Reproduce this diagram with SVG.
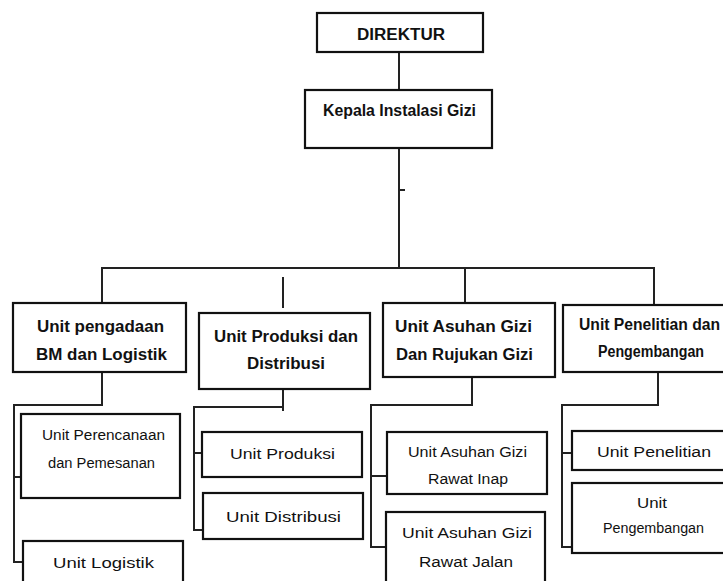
<svg xmlns="http://www.w3.org/2000/svg" width="723" height="581" viewBox="0 0 723 581">
<style>
.box{fill:#fff;stroke:#111;stroke-width:2.2}
.ln{fill:none;stroke:#222;stroke-width:2}
.h{font-family:"Comic Sans MS","Liberation Sans",sans-serif;font-weight:bold;font-size:16px;fill:#111;text-anchor:middle}
.c{font-family:"Comic Sans MS","Liberation Sans",sans-serif;font-size:15.5px;fill:#111;text-anchor:middle}
</style>
<rect width="723" height="581" fill="#fff"/>
<g id="connectors">
<path class="ln" d="M399,52 V90"/>
<path class="ln" d="M399,148 V268"/>
<path class="ln" d="M399,190 H405" stroke-width="2.5"/>
<path class="ln" d="M102,303 V268 H654 V305"/>
<path class="ln" d="M283,277 V308"/>
<path class="ln" d="M465,268 V303"/>
<path class="ln" d="M102,372 V405 H14 V562 H23 M14,477 H21"/>
<path class="ln" d="M283,389 V411 M283,407 H194 V530 H203 M194,453 H202"/>
<path class="ln" d="M472,377 V405 H371 V547 H388 M371,476 H389"/>
<path class="ln" d="M658,372 V405 H562 V547 H572 M562,453 H572"/>
</g>
<g id="direktur">
<rect class="box" x="317" y="13" width="166" height="39"/>
<text class="h" x="401" y="40" textLength="88" lengthAdjust="spacingAndGlyphs">DIREKTUR</text>
</g>
<g id="kepala">
<rect class="box" x="305" y="90" width="187" height="58"/>
<text class="h" x="399.5" y="116" textLength="153" lengthAdjust="spacingAndGlyphs">Kepala Instalasi Gizi</text>
</g>
<g id="unit-pengadaan">
<rect class="box" x="13" y="303" width="173" height="69"/>
<text class="h" x="100.5" y="332" textLength="127" lengthAdjust="spacingAndGlyphs">Unit pengadaan</text>
<text class="h" x="101.5" y="360" textLength="131" lengthAdjust="spacingAndGlyphs">BM dan Logistik</text>
</g>
<g id="unit-produksi-distribusi">
<rect class="box" x="199" y="313" width="171" height="76"/>
<text class="h" x="286" y="342" textLength="144" lengthAdjust="spacingAndGlyphs">Unit Produksi dan</text>
<text class="h" x="286" y="369" textLength="78" lengthAdjust="spacingAndGlyphs">Distribusi</text>
</g>
<g id="unit-asuhan">
<rect class="box" x="383" y="303" width="172" height="74"/>
<text class="h" x="463.5" y="332" textLength="137" lengthAdjust="spacingAndGlyphs">Unit Asuhan Gizi</text>
<text class="h" x="464.5" y="360" textLength="137" lengthAdjust="spacingAndGlyphs">Dan Rujukan Gizi</text>
</g>
<g id="unit-penelitian-pengembangan">
<rect class="box" x="563" y="305" width="164" height="67"/>
<text class="h" x="649.5" y="330" textLength="141" lengthAdjust="spacingAndGlyphs">Unit Penelitian dan</text>
<text class="h" x="651" y="357" textLength="106" lengthAdjust="spacingAndGlyphs">Pengembangan</text>
</g>
<g id="unit-perencanaan">
<rect class="box" x="21" y="414" width="159" height="84"/>
<text class="c" x="103.5" y="440" textLength="123" lengthAdjust="spacingAndGlyphs">Unit Perencanaan</text>
<text class="c" x="101.5" y="468" textLength="107" lengthAdjust="spacingAndGlyphs">dan Pemesanan</text>
</g>
<g id="unit-logistik">
<rect class="box" x="23" y="541" width="160" height="50"/>
<text class="c" x="103.5" y="568" textLength="101" lengthAdjust="spacingAndGlyphs">Unit Logistik</text>
</g>
<g id="unit-produksi">
<rect class="box" x="202" y="432" width="160" height="45"/>
<text class="c" x="282.5" y="459" textLength="105" lengthAdjust="spacingAndGlyphs">Unit Produksi</text>
</g>
<g id="unit-distribusi">
<rect class="box" x="203" y="493" width="160" height="46"/>
<text class="c" x="283.5" y="522" textLength="115" lengthAdjust="spacingAndGlyphs">Unit Distribusi</text>
</g>
<g id="unit-rawat-inap">
<rect class="box" x="387" y="432" width="160" height="62"/>
<text class="c" x="467.5" y="457" textLength="119" lengthAdjust="spacingAndGlyphs">Unit Asuhan Gizi</text>
<text class="c" x="468" y="484" textLength="80" lengthAdjust="spacingAndGlyphs">Rawat Inap</text>
</g>
<g id="unit-rawat-jalan">
<rect class="box" x="386" y="512" width="159" height="79"/>
<text class="c" x="467" y="538" textLength="130" lengthAdjust="spacingAndGlyphs">Unit Asuhan Gizi</text>
<text class="c" x="466" y="567" textLength="94" lengthAdjust="spacingAndGlyphs">Rawat Jalan</text>
</g>
<g id="unit-penelitian">
<rect class="box" x="572" y="431" width="155" height="39"/>
<text class="c" x="654" y="457" textLength="114" lengthAdjust="spacingAndGlyphs">Unit Penelitian</text>
</g>
<g id="unit-pengembangan">
<rect class="box" x="572" y="483" width="155" height="70"/>
<text class="c" x="652" y="508" textLength="30" lengthAdjust="spacingAndGlyphs">Unit</text>
<text class="c" x="653.5" y="533" textLength="101" lengthAdjust="spacingAndGlyphs">Pengembangan</text>
</g>
</svg>
